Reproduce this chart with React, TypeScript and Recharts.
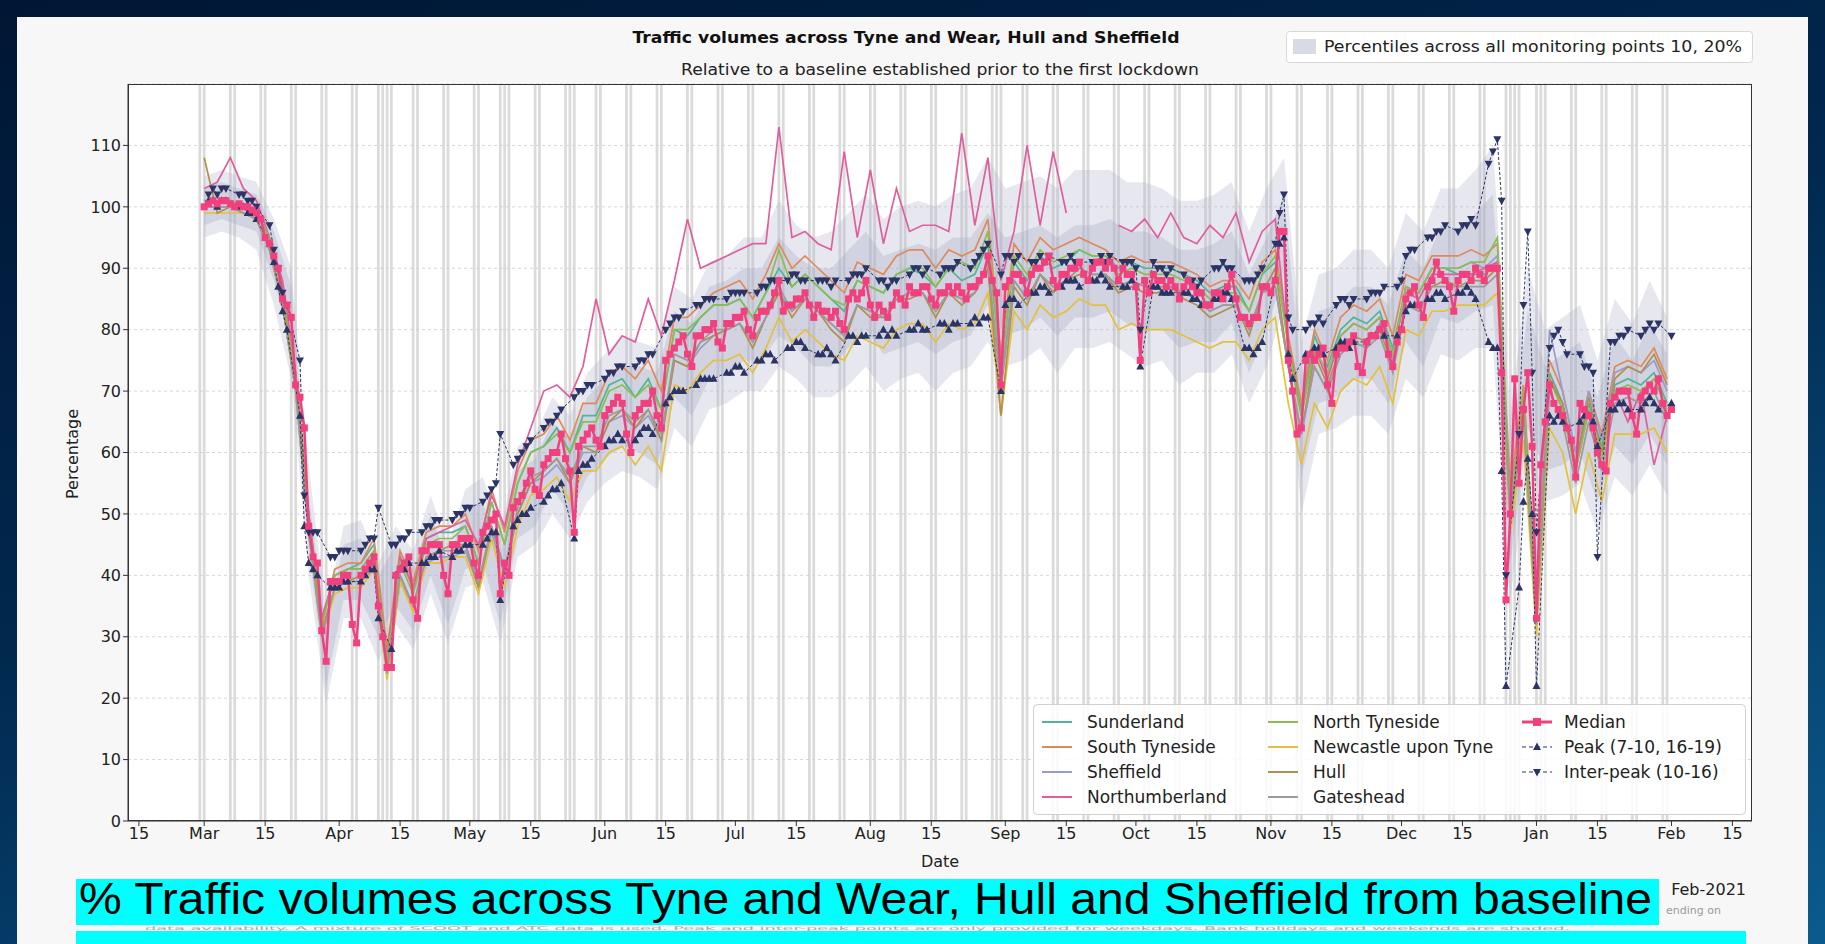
import React from "react";
import {
  ComposedChart,
  Line,
  Area,
  XAxis,
  YAxis,
  CartesianGrid,
  ReferenceArea,
} from "recharts";

const WIDTH = 1825;
const HEIGHT = 944;
const FONT = "'DejaVu Sans', sans-serif";
const MARGIN = { top: 84, right: 73, bottom: 93, left: 68 };
const X_DOMAIN: [number, number] = [-17.5, 355.5];
const Y_DOMAIN: [number, number] = [0, 120];

// x values are days since Sun 1 Mar 2020
const tickDays = [-15, 0, 14, 31, 45, 61, 75, 92, 106, 122, 136, 153, 167, 184, 198, 214, 228, 245, 259, 275, 289, 306, 320, 337, 351];
const tickLabels = ["15", "Mar", "15", "Apr", "15", "May", "15", "Jun", "15", "Jul", "15", "Aug", "15", "Sep", "15", "Oct", "15", "Nov", "15", "Dec", "15", "Jan", "15", "Feb", "15"];
const yTicks = [0, 10, 20, 30, 40, 50, 60, 70, 80, 90, 100, 110];

const bankHolidays = [40, 43, 68, 85, 183, 299, 302, 306];

// median, one value per day (rows are Sun..Sat weeks)
const median = [
  100, 100.5, 101, 100.5, 101, 101, 100.5,
  100, 100.5, 100, 100, 99.5, 99, 98,
  95, 94, 92, 90, 85, 84, 82,
  71, 69, 64, 48, 43, 42, 31,
  26, 39, 39, 39, 40, 40, 32,
  29, 40, 41, 42, 43, 35, 30,
  25, 25, 40, 41, 42, 43, 36,
  33, 44, 44, 45, 45, 45, 40,
  37, 45, 45, 46, 46, 46, 42,
  40, 47, 48, 49, 50, 37, 42,
  40, 51, 52, 53, 55, 57, 54,
  53, 58, 59, 60, 60, 63, 59,
  57, 47, 61, 62, 63, 64, 62,
  61, 66, 67, 68, 69, 68, 63,
  60, 66, 67, 68, 68, 70, 66,
  64, 75, 76, 77, 78, 79, 76,
  74, 79, 79, 80, 80, 81, 78,
  77, 81, 81, 82, 82, 83, 80,
  79, 82, 83, 83, 84, 86, 88,
  83, 84, 84, 85, 85, 86, 84,
  82, 84, 83, 83, 82, 83, 81,
  80, 85, 86, 85, 86, 88, 84,
  82, 84, 83, 82, 84, 86, 85,
  84, 87, 86, 86, 87, 87, 85,
  84, 86, 86, 87, 86, 87, 86,
  85, 87, 87, 88, 89, 92, 88,
  86, 71, 87, 88, 89, 89, 88,
  86, 89, 90, 90, 91, 92, 88,
  87, 89, 89, 90, 90, 91, 89,
  88, 90, 91, 91, 90, 91, 90,
  88, 90, 89, 89, 87, 75, 88,
  86, 89, 88, 88, 87, 88, 87,
  85, 87, 88, 87, 86, 86, 84,
  84, 86, 86, 85, 87, 89, 85,
  82, 82, 81, 82, 82, 87, 87,
  86, 88, 96, 96, 75, 70, 63,
  64, 75, 76, 75, 76, 77, 71,
  68, 76, 77, 77, 78, 79, 74,
  73, 78, 79, 79, 80, 81, 76,
  74, 78, 80, 85, 86, 87, 84,
  82, 87, 88, 91, 89, 88, 87,
  83, 88, 89, 89, 88, 90, 89,
  88, 90, 90, 90, 73, 36, 50,
  72, 55, 67, 73, 61, 33, 58,
  65, 71, 68, 67, 66, 64, 62,
  56, 68, 67, 66, 64, 60, 58,
  57, 68, 69, 70, 70, 70, 66,
  63, 69, 70, 71, 70, 72, 68,
  66, 67,
];

// peak and inter-peak, weekdays only (Mon..Fri rows)
const peak = [
  101, 101, 100, 101, 101,
  100, 100, 99, 99, 98,
  94, 91, 87, 83, 80,
  66, 48, 42, 41, 40,
  38, 38, 38, 39, 39,
  39, 40, 41, 41, 33,
  28, 40, 41, 41, 42,
  42, 42, 43, 43, 44,
  43, 44, 44, 45, 45,
  45, 46, 47, 47, 36,
  48, 49, 50, 50, 51,
  52, 53, 54, 54, 55,
  46, 57, 58, 58, 59,
  61, 62, 62, 63, 62,
  62, 63, 64, 64, 63,
  68, 69, 70, 70, 70,
  71, 72, 72, 72, 72,
  73, 73, 74, 74, 73,
  75, 75, 76, 76, 75,
  77, 77, 78, 78, 77,
  76, 76, 77, 76, 75,
  79, 79, 78, 79, 79,
  79, 80, 79, 80, 79,
  80, 80, 81, 80, 80,
  81, 81, 80, 81, 81,
  81, 82, 81, 82, 82,
  70, 84, 85, 85, 84,
  86, 86, 87, 87, 86,
  87, 88, 88, 88, 87,
  88, 88, 89, 88, 87,
  87, 87, 88, 87, 74,
  87, 87, 86, 86, 86,
  86, 86, 85, 85, 84,
  85, 85, 86, 86, 85,
  77, 77, 76, 77, 78,
  88, 94, 95, 76, 72,
  76, 76, 77, 77, 76,
  77, 78, 78, 77, 78,
  78, 79, 79, 80, 79,
  79, 80, 83, 84, 84,
  85, 85, 86, 86, 85,
  86, 86, 87, 86, 85,
  78, 77, 77, 57, 22,
  38, 52, 59, 50, 22,
  66, 65, 66, 65, 64,
  65, 66, 66, 65, 61,
  67, 67, 68, 68, 67,
  67, 68, 69, 68, 67,
  68,
];

const interPeak = [
  102, 103, 102, 103, 103,
  102, 102, 101, 101, 100,
  97, 93, 90, 86, 84,
  75, 53, 47, 47, 47,
  43, 43, 44, 44, 44,
  44, 45, 46, 46, 51,
  45, 45, 46, 46, 47,
  47, 48, 48, 49, 49,
  49, 50, 50, 51, 51,
  52, 53, 54, 55, 63,
  58, 59, 60, 61, 62,
  64, 65, 65, 66, 67,
  69, 70, 70, 71, 71,
  72, 73, 73, 74, 74,
  74, 75, 75, 76, 76,
  80, 81, 82, 82, 83,
  84, 84, 85, 85, 85,
  85, 86, 86, 86, 86,
  86, 87, 87, 88, 88,
  88, 89, 89, 88, 88,
  88, 88, 88, 87, 88,
  88, 89, 89, 89, 90,
  88, 88, 87, 88, 88,
  89, 90, 90, 89, 90,
  89, 90, 90, 90, 91,
  90, 91, 92, 93, 94,
  89, 92, 92, 91, 92,
  91, 91, 92, 91, 92,
  91, 91, 92, 91, 91,
  91, 91, 92, 91, 92,
  91, 91, 91, 90, 80,
  91, 90, 90, 89, 90,
  89, 88, 88, 87, 88,
  90, 90, 91, 90, 90,
  88, 88, 88, 89, 90,
  94, 99, 102, 82, 80,
  80, 81, 81, 82, 81,
  84, 85, 85, 84, 85,
  85, 86, 86, 86, 87,
  87, 88, 92, 93, 93,
  95, 95, 96, 96, 97,
  96, 97, 97, 98, 97,
  107, 109, 111, 101, 40,
  63, 84, 96, 73, 47,
  77, 79, 80, 78, 76,
  76, 74, 74, 73, 43,
  78, 78, 79, 79, 80,
  79, 80, 81, 80, 81,
  79,
];

// local authorities, one value every 3 days
const sunderland = [
  101, 101, 101, 100, 99, 95, 87, 73, 50, 33,
  40, 41, 42, 45, 27, 43, 38, 46, 47, 47,
  48, 42, 52, 45, 55, 60, 61, 64, 60, 66,
  66, 71, 72, 69, 72, 67, 80, 79, 82, 84,
  84, 85, 82, 86, 90, 87, 89, 87, 85, 83,
  88, 87, 86, 89, 90, 89, 87, 90, 88, 89,
  94, 74, 91, 88, 92, 90, 91, 93, 92, 92,
  90, 91, 90, 90, 90, 89, 88, 86, 87, 87,
  83, 89, 91, 78, 67, 79, 74, 80, 82, 81,
  83, 77, 87, 86, 90, 90, 89, 89, 89, 91,
  52, 69, 36, 73, 68, 58, 68, 61, 71, 72,
  71, 73, 68,
];
const southTyneside = [
  100, 101, 101, 100, 99, 95, 86, 72, 49, 32,
  41, 42, 42, 46, 28, 44, 39, 47, 48, 48,
  50, 44, 54, 47, 57, 62, 63, 66, 62, 68,
  68, 73, 74, 72, 75, 70, 82, 82, 84, 86,
  87, 88, 85, 89, 94, 90, 92, 90, 88, 86,
  91, 90, 89, 92, 93, 93, 90, 93, 92, 93,
  98, 76, 94, 91, 95, 93, 94, 95, 94, 93,
  91, 92, 91, 91, 91, 90, 89, 87, 88, 88,
  85, 91, 93, 79, 68, 80, 75, 82, 84, 83,
  85, 79, 89, 88, 92, 92, 92, 93, 92, 94,
  54, 71, 37, 75, 70, 60, 70, 63, 74, 75,
  74, 77, 72,
];
const sheffield = [
  100, 100, 100, 99, 98, 93, 84, 70, 47, 30,
  38, 39, 39, 41, 24, 39, 35, 42, 43, 43,
  44, 38, 47, 40, 50, 55, 56, 58, 55, 60,
  60, 65, 66, 64, 66, 62, 75, 74, 77, 79,
  80, 81, 78, 82, 86, 83, 85, 83, 81, 79,
  84, 83, 82, 85, 86, 86, 83, 86, 85, 86,
  90, 72, 88, 85, 89, 87, 88, 90, 89, 89,
  87, 88, 87, 87, 87, 86, 85, 83, 84, 84,
  80, 86, 87, 74, 63, 74, 70, 76, 78, 77,
  81, 75, 87, 86, 90, 90, 90, 91, 90, 92,
  52, 69, 35, 80, 70, 60, 70, 62, 73, 74,
  73, 75, 70,
];
const northumberland = [
  103, 104, 108, 103, 101, 95, 88, 73, 50, 33,
  40, 41, 41, 44, 27, 43, 38, 46, 47, 48,
  49, 45, 53, 48, 58, 64, 70, 71, 69, 74,
  85, 76, 79, 78, 85, 79, 88, 98, 90, 91,
  92, 93, 94, 94, 113, 95, 96, 94, 93, 109,
  95, 106, 94, 103, 96, 97, 97, 96, 112, 97,
  108, 88, 96, 110, 97, 109, 99, null, null, null,
  97, 96, 98, 95, 99, 95, 94, 97, 95, 99,
  91, 96, 98, 77, 66, 77, 72, 79, 81, 80,
  82, 76, 86, 85, 89, 89, 89, 89, 90, 91,
  51, 68, 34, 72, 67, 57, 67, 59, 70, 65,
  70, 58, 66,
];
const northTyneside = [
  100, 101, 101, 100, 99, 95, 86, 72, 49, 32,
  40, 41, 41, 44, 26, 42, 37, 45, 46, 46,
  48, 42, 52, 45, 55, 60, 61, 63, 60, 65,
  65, 70, 71, 69, 71, 67, 80, 80, 82, 84,
  84, 85, 82, 86, 93, 87, 89, 87, 85, 84,
  88, 87, 86, 89, 90, 90, 87, 90, 91, 90,
  96, 73, 92, 89, 93, 91, 92, 93, 92, 92,
  89, 90, 89, 89, 89, 88, 87, 85, 86, 86,
  83, 89, 92, 77, 66, 77, 73, 79, 81, 80,
  82, 76, 87, 86, 90, 90, 90, 91, 91, 95,
  51, 70, 34, 72, 67, 57, 67, 59, 70, 71,
  70, 72, 67,
];
const newcastle = [
  99, 99, 99, 99, 98, 93, 84, 70, 47, 30,
  37, 38, 38, 41, 23, 39, 34, 42, 42, 43,
  43, 37, 46, 38, 48, 53, 54, 56, 52, 57,
  57, 60, 61, 58, 61, 57, 71, 70, 73, 75,
  75, 76, 73, 77, 82, 78, 80, 78, 76, 75,
  79, 78, 77, 80, 81, 81, 78, 81, 80, 81,
  86, 66, 83, 80, 84, 82, 83, 85, 84, 84,
  80, 81, 80, 80, 80, 79, 78, 77, 78, 78,
  75, 80, 82, 68, 58, 68, 64, 70, 72, 71,
  74, 68, 80, 79, 83, 83, 84, 84, 84, 86,
  47, 62, 30, 64, 60, 50, 60, 52, 63, 63,
  63, 64, 60,
];
const hull = [
  108, 99, 100, 99, 98, 93, 85, 71, 48, 31,
  38, 39, 40, 42, 25, 40, 35, 43, 44, 45,
  45, 38, 48, 41, 50, 55, 57, 59, 55, 61,
  60, 65, 67, 64, 67, 62, 75, 74, 78, 79,
  80, 81, 77, 82, 86, 82, 85, 83, 80, 78,
  84, 82, 82, 85, 85, 86, 82, 86, 84, 86,
  90, 66, 87, 84, 89, 86, 88, 89, 88, 89,
  86, 87, 86, 86, 87, 85, 84, 82, 83, 84,
  79, 86, 90, 74, 63, 76, 71, 77, 79, 78,
  80, 74, 84, 83, 87, 88, 87, 88, 88, 90,
  49, 66, 32, 72, 68, 58, 69, 60, 72, 74,
  73, 76, 71,
];
const gateshead = [
  100, 100, 100, 99, 98, 93, 84, 70, 47, 30,
  38, 39, 39, 42, 24, 40, 35, 43, 44, 44,
  45, 39, 48, 41, 51, 56, 57, 59, 56, 61,
  61, 66, 67, 65, 67, 63, 76, 75, 78, 80,
  80, 81, 78, 82, 87, 83, 85, 83, 81, 79,
  84, 83, 82, 85, 86, 86, 83, 86, 85, 86,
  91, 70, 88, 85, 89, 87, 88, 90, 89, 89,
  87, 88, 87, 87, 87, 86, 85, 83, 84, 84,
  80, 86, 87, 74, 63, 74, 70, 76, 78, 77,
  79, 73, 84, 83, 87, 87, 87, 87, 87, 89,
  49, 66, 32, 70, 65, 55, 65, 57, 68, 69,
  68, 70, 65,
];

// percentile bands across all monitoring points, one value every 4 days
const outerLow = [
  95, 96, 95, 93, 84, 72, 40, 19, 33, 33,
  26, 32, 28, 37, 29, 38, 39, 29, 43, 45,
  50, 46, 52, 55, 57, 56, 54, 64, 61, 67,
  68, 70, 70, 74, 72, 69, 69, 71, 74, 70,
  72, 73, 70, 73, 74, 78, 74, 75, 77, 73,
  77, 77, 78, 76, 74, 75, 71, 73, 73, 76,
  68, 74, 84, 50, 63, 64, 66, 66, 63, 72,
  69, 76, 75, 77, 77, 36, 58, 52, 53, 55,
  47, 56, 53, 58, 53,
];
const outerHigh = [
  105, 106, 105, 104, 98, 90, 58, 34, 48, 49,
  42, 48, 44, 53, 45, 54, 56, 47, 61, 63,
  69, 66, 73, 76, 79, 78, 77, 87, 85, 91,
  92, 95, 95, 101, 97, 95, 96, 99, 102, 98,
  100, 101, 100, 102, 103, 108, 103, 104, 105, 103,
  106, 106, 106, 104, 104, 103, 101, 101, 102, 104,
  96, 103, 108, 78, 89, 90, 93, 93, 90, 99,
  96, 103, 103, 106, 110, 66, 90, 80, 82, 84,
  75, 85, 81, 88, 82,
];
const innerLow = [
  97, 98, 97, 96, 88, 77, 44, 22, 36, 36,
  30, 35, 31, 40, 32, 41, 42, 32, 46, 48,
  54, 50, 56, 59, 61, 60, 58, 69, 66, 72,
  73, 75, 75, 79, 77, 74, 74, 77, 80, 76,
  77, 78, 76, 78, 79, 84, 79, 80, 82, 79,
  82, 82, 83, 81, 80, 80, 77, 78, 78, 81,
  73, 80, 89, 56, 68, 69, 72, 72, 68, 78,
  74, 82, 81, 83, 84, 42, 64, 57, 58, 60,
  52, 61, 58, 63, 58,
];
const innerHigh = [
  103, 104, 103, 102, 96, 87, 53, 31, 45, 46,
  40, 45, 41, 50, 42, 51, 52, 43, 57, 59,
  65, 62, 69, 72, 74, 74, 73, 83, 81, 87,
  88, 90, 90, 95, 92, 90, 90, 93, 96, 92,
  93, 94, 93, 95, 95, 99, 95, 96, 97, 95,
  97, 97, 98, 96, 96, 95, 93, 93, 94, 96,
  89, 95, 102, 72, 83, 84, 87, 87, 84, 93,
  90, 97, 96, 99, 102, 59, 83, 74, 76, 78,
  69, 79, 75, 81, 76,
];

const MEDIAN_COLOR = "#f2407f";
const PEAK_COLOR = "#2b3465";

const areas = [
  { name: "Sunderland", key: "sunderland", color: "#4fb595", values: sunderland },
  { name: "South Tyneside", key: "southTyneside", color: "#df8a5b", values: southTyneside },
  { name: "Sheffield", key: "sheffield", color: "#999bcb", values: sheffield },
  { name: "Northumberland", key: "northumberland", color: "#de5f9d", values: northumberland },
  { name: "North Tyneside", key: "northTyneside", color: "#8cbd52", values: northTyneside },
  { name: "Newcastle upon Tyne", key: "newcastle", color: "#e5c03b", values: newcastle },
  { name: "Hull", key: "hull", color: "#b1904c", values: hull },
  { name: "Gateshead", key: "gateshead", color: "#9b9b9b", values: gateshead },
];

// ---- tables for recharts ----
const bandRows = outerLow.map((lo, i) => ({
  day: i * 4,
  outer: [lo, outerHigh[i]],
  inner: [innerLow[i], innerHigh[i]],
}));

const rows: any[] = median.map((v, d) => ({ day: d, median: v }));

const segments: { key: string; color: string }[] = [];
areas.forEach((a) => {
  let seg = 0;
  let open = false;
  a.values.forEach((v, i) => {
    if (v == null) {
      if (open) { seg++; open = false; }
      return;
    }
    const k = `${a.key}_${seg}`;
    if (!open) { segments.push({ key: k, color: a.color }); open = true; }
    rows[i * 3][k] = v;
  });
});

const weekdays = rows.map((r) => r.day).filter((d) => d % 7 !== 0 && d % 7 !== 6);
peak.forEach((v, i) => { rows[weekdays[i]].peak = v; });
interPeak.forEach((v, i) => { rows[weekdays[i]].interPeak = v; });

const shadedDays: number[] = [];
for (let d = -1; d <= 337; d++) {
  const w = ((d % 7) + 7) % 7;
  if (w === 0 || w === 6) shadedDays.push(d);
}
bankHolidays.forEach((d) => shadedDays.push(d));

const tickText = (v: number) => tickLabels[tickDays.indexOf(v)] ?? "";

// ---- markers ----
const SquareDot = (props: any) => {
  const { cx, cy, index } = props;
  if (cx == null || cy == null) return <g key={`sq-${index}`} />;
  return <rect key={`sq-${index}`} x={cx - 3.5} y={cy - 3.5} width={7} height={7} fill={MEDIAN_COLOR} />;
};
const UpDot = (props: any) => {
  const { cx, cy, index } = props;
  if (cx == null || cy == null) return <g key={`up-${index}`} />;
  return <path key={`up-${index}`} d={`M${cx},${cy - 4.5}L${cx + 4},${cy + 3}L${cx - 4},${cy + 3}Z`} fill={PEAK_COLOR} />;
};
const DownDot = (props: any) => {
  const { cx, cy, index } = props;
  if (cx == null || cy == null) return <g key={`dn-${index}`} />;
  return <path key={`dn-${index}`} d={`M${cx},${cy + 4.5}L${cx + 4},${cy - 3}L${cx - 4},${cy - 3}Z`} fill={PEAK_COLOR} />;
};

const legendCols = [
  { x: 1042, items: areas.slice(0, 4) },
  { x: 1268, items: areas.slice(4, 8) },
];
const legendRows = [722, 747, 772, 797];

const Overlay = () => (
  <svg width={WIDTH} height={HEIGHT} style={{ position: "absolute", left: 0, top: 0, pointerEvents: "none" }}>
    <rect x={128.5} y={84.5} width={1623} height={736} fill="none" stroke="#333" strokeWidth={1} />
    <text x={906} y={43} textAnchor="middle" fontFamily={FONT} fontSize={15} fontWeight="bold" fill="#111"
      textLength={547} lengthAdjust="spacingAndGlyphs">Traffic volumes across Tyne and Wear, Hull and Sheffield</text>
    <text x={940} y={75} textAnchor="middle" fontFamily={FONT} fontSize={15} fill="#222"
      textLength={518} lengthAdjust="spacingAndGlyphs">Relative to a baseline established prior to the first lockdown</text>

    <rect x={1286.5} y={31.5} width={466} height={31} rx={3} fill="#fff" stroke="#d8d8d8" />
    <rect x={1293} y={39} width={23} height={15} fill="#d9dbe4" />
    <text x={1324} y={52} fontFamily={FONT} fontSize={15} fill="#222" textLength={418} lengthAdjust="spacingAndGlyphs">
      Percentiles across all monitoring points 10, 20%
    </text>

    <text x={0} y={0} transform="translate(78,454) rotate(-90)" textAnchor="middle" fontFamily={FONT} fontSize={16} fill="#222">Percentage</text>
    <text x={940} y={867} textAnchor="middle" fontFamily={FONT} fontSize={16} fill="#222">Date</text>
    <text x={1746} y={895} textAnchor="end" fontFamily={FONT} fontSize={16} fill="#222">Feb-2021</text>

    <rect x={1033.5} y={704.5} width={712} height={110} rx={4} fill="#fff" fillOpacity={0.85} stroke="#d0d0d0" />
    {legendCols.map((col) =>
      col.items.map((a, i) => (
        <g key={a.key}>
          <line x1={col.x} x2={col.x + 30} y1={legendRows[i]} y2={legendRows[i]} stroke={a.color} strokeWidth={2} />
          <text x={col.x + 45} y={legendRows[i] + 6} fontFamily={FONT} fontSize={17} fill="#222">{a.name}</text>
        </g>
      ))
    )}
    <line x1={1522} x2={1552} y1={722} y2={722} stroke={MEDIAN_COLOR} strokeWidth={3} />
    <rect x={1533} y={718} width={8} height={8} fill={MEDIAN_COLOR} />
    <text x={1564} y={728} fontFamily={FONT} fontSize={17} fill="#222">Median</text>
    <line x1={1522} x2={1552} y1={747} y2={747} stroke={PEAK_COLOR} strokeWidth={1} strokeDasharray="4 3" />
    <path d="M1537,742.5L1541,750L1533,750Z" fill={PEAK_COLOR} />
    <text x={1564} y={753} fontFamily={FONT} fontSize={17} fill="#222">Peak (7-10, 16-19)</text>
    <line x1={1522} x2={1552} y1={772} y2={772} stroke={PEAK_COLOR} strokeWidth={1} strokeDasharray="4 3" />
    <path d="M1537,776.5L1541,769L1533,769Z" fill={PEAK_COLOR} />
    <text x={1564} y={778} fontFamily={FONT} fontSize={17} fill="#222">Inter-peak (10-16)</text>

    <text x={1666} y={914} fontFamily={FONT} fontSize={11} fill="#9a9a9a">ending on</text>
    <text x={145} y={929.5} fontFamily={FONT} fontSize={5} fill="#aaa" textLength={1425} lengthAdjust="spacingAndGlyphs">
      data availability. A mixture of SCOOT and ATC data is used. Peak and inter-peak points are only provided for weekdays. Bank holidays and weekends are shaded.
    </text>
    <rect x={76} y={879} width={1583} height={46} fill="#00ffff" />
    <text x={79} y={914} fontFamily="'Liberation Sans', Arial, sans-serif" fontSize={45} fill="#000"
      textLength={1573} lengthAdjust="spacingAndGlyphs">% Traffic volumes across Tyne and Wear, Hull and Sheffield from baseline</text>
    <rect x={76} y={931} width={1670} height={13} fill="#00ffff" />
  </svg>
);

const axisTick = { fontSize: 16, fill: "#222", fontFamily: FONT };

const App = () => (
  <div style={{ position: "absolute", left: 0, top: 0, width: WIDTH, height: HEIGHT, overflow: "hidden",
    background: "linear-gradient(165deg, #001634 0%, #01284f 45%, #0a5b8d 100%)" }}>
    <div style={{ position: "absolute", left: 17, top: 17, width: 1791, height: 927, background: "#f7f7f7" }} />
    <div style={{ position: "absolute", left: 128, top: 84, width: 1624, height: 737, background: "#ffffff" }} />

    <div style={{ position: "absolute", left: 0, top: 0 }}>
      <ComposedChart width={WIDTH} height={HEIGHT} data={bandRows} margin={MARGIN}>
        <CartesianGrid vertical={false} stroke="#d6d6d6" strokeDasharray="3 3" />
        {shadedDays.map((d, i) => (
          <ReferenceArea key={`wk-${i}`} x1={d - 0.32} x2={d + 0.32} fill="#cfcfcf" fillOpacity={0.75} stroke="none" />
        ))}
        <XAxis dataKey="day" type="number" domain={X_DOMAIN} ticks={tickDays} interval={0} tickFormatter={tickText}
          tick={axisTick} tickSize={5} tickLine={{ stroke: "#333" }} axisLine={{ stroke: "#333" }} height={30} allowDataOverflow />
        <YAxis type="number" domain={Y_DOMAIN} ticks={yTicks} interval={0} tick={axisTick} tickSize={5}
          tickLine={{ stroke: "#333" }} axisLine={{ stroke: "#333" }} width={60} allowDataOverflow />
        <Area dataKey={(r: any) => r.outer} type="linear" stroke="none" fill="#b3b8cc" fillOpacity={0.32} isAnimationActive={false} />
        <Area dataKey={(r: any) => r.inner} type="linear" stroke="none" fill="#a3a9c2" fillOpacity={0.32} isAnimationActive={false} />
      </ComposedChart>
    </div>

    <div style={{ position: "absolute", left: 0, top: 0 }}>
      <ComposedChart width={WIDTH} height={HEIGHT} data={rows} margin={MARGIN}>
        <XAxis dataKey="day" type="number" domain={X_DOMAIN} ticks={tickDays} tick={false} tickLine={false} axisLine={false} height={30} allowDataOverflow />
        <YAxis type="number" domain={Y_DOMAIN} ticks={yTicks} tick={false} tickLine={false} axisLine={false} width={60} allowDataOverflow />
        {segments.map((s) => (
          <Line key={s.key} dataKey={s.key} type="linear" stroke={s.color} strokeWidth={1.7} dot={false} activeDot={false}
            connectNulls isAnimationActive={false} />
        ))}
        <Line dataKey="peak" type="linear" stroke={PEAK_COLOR} strokeWidth={1} strokeDasharray="3 2" dot={UpDot}
          activeDot={false} connectNulls isAnimationActive={false} />
        <Line dataKey="interPeak" type="linear" stroke={PEAK_COLOR} strokeWidth={1} strokeDasharray="3 2" dot={DownDot}
          activeDot={false} connectNulls isAnimationActive={false} />
        <Line dataKey="median" type="linear" stroke={MEDIAN_COLOR} strokeWidth={2.5} dot={SquareDot}
          activeDot={false} isAnimationActive={false} />
      </ComposedChart>
    </div>

    <Overlay />
  </div>
);

export default App;
